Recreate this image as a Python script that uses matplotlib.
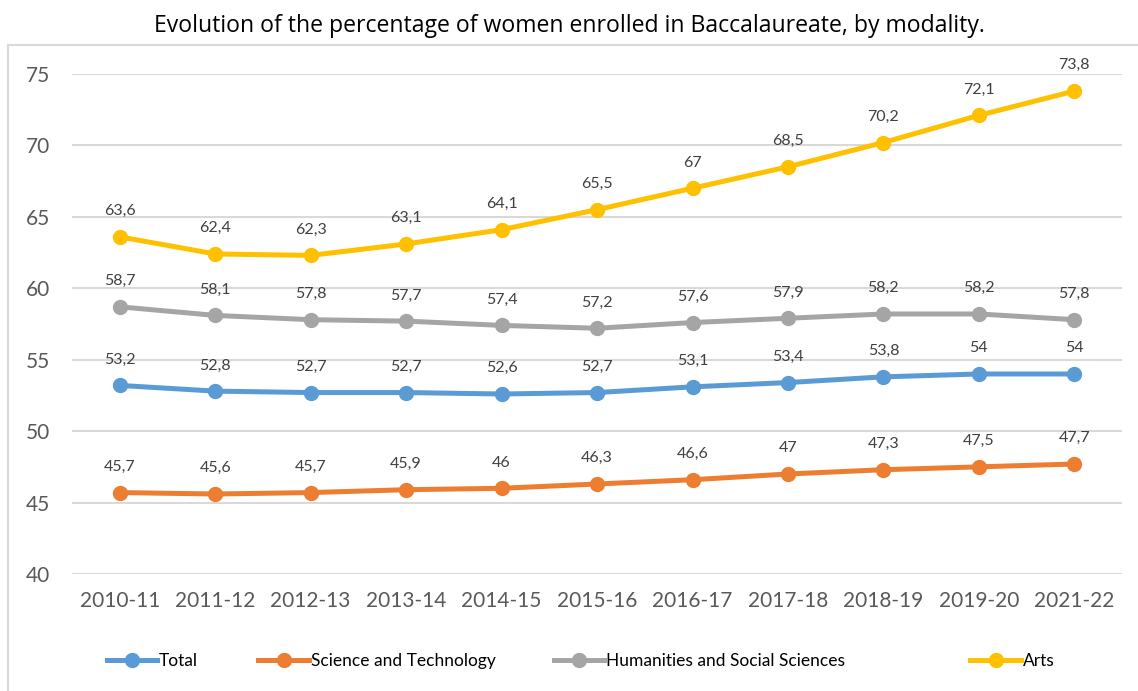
import matplotlib.pyplot as plt
from matplotlib.patches import Rectangle
from matplotlib.lines import Line2D

plt.rcParams['font.family'] = ['Lato', 'DejaVu Sans']

# School years on the x axis
years = ['2010-11', '2011-12', '2012-13', '2013-14', '2014-15', '2015-16',
         '2016-17', '2017-18', '2018-19', '2019-20', '2021-22']

# Percentage of women enrolled, by modality
total = [53.2, 52.8, 52.7, 52.7, 52.6, 52.7, 53.1, 53.4, 53.8, 54, 54]
science = [45.7, 45.6, 45.7, 45.9, 46, 46.3, 46.6, 47, 47.3, 47.5, 47.7]
humanities = [58.7, 58.1, 57.8, 57.7, 57.4, 57.2, 57.6, 57.9, 58.2, 58.2, 57.8]
arts = [63.6, 62.4, 62.3, 63.1, 64.1, 65.5, 67, 68.5, 70.2, 72.1, 73.8]

names = ['Total', 'Science and Technology', 'Humanities and Social Sciences', 'Arts']
colors = ['#5B9BD5', '#ED7D31', '#A5A5A5', '#FFC000']
series = [total, science, humanities, arts]

fig = plt.figure(figsize=(11.38, 6.91), dpi=100)
ax = fig.add_axes([0.0633, 0.1693, 0.9227, 0.7237])

# outer chart frame
fig.patches.append(Rectangle((0.007, -0.05), 1.1, 0.985, transform=fig.transFigure,
                             fill=False, edgecolor='#D9D9D9', linewidth=1.5))

x = range(len(years))
for vals, col in zip(series, colors):
    ax.plot(x, vals, color=col, linewidth=3.6, marker='o', markersize=10,
            solid_capstyle='round', zorder=3)
    for xi, v in zip(x, vals):
        label = ('%g' % v).replace('.', ',')
        ax.annotate(label, (xi, v), xytext=(0, 18.5), textcoords='offset points',
                    ha='center', va='center', fontsize=11.5, color='#404040')

ax.set_xlim(-0.5, len(years) - 0.5)
ax.set_ylim(40, 75)
ax.set_yticks(range(40, 76, 5))
ax.set_xticks(list(x))
ax.set_xticklabels(years)
ax.tick_params(axis='both', length=0, labelsize=15, labelcolor='#595959')
ax.tick_params(axis='y', pad=16)
ax.tick_params(axis='x', pad=12)
ax.grid(axis='y', color='#D9D9D9', linewidth=1.5)
ax.set_axisbelow(True)
for s in ax.spines.values():
    s.set_visible(False)

fig.text(0.5, 0.963, 'Evolution of the percentage of women enrolled in Baccalaureate, by modality.',
         ha='center', va='center', fontsize=16.6, color='black', family=['Open Sans', 'DejaVu Sans'])

# legend entries placed one by one, as in the original
leg_x = [0.088, 0.221, 0.4806, 0.8467]
for name, col, lx in zip(names, colors, leg_x):
    h = Line2D([], [], color=col, linewidth=3.6, marker='o', markersize=10)
    leg = fig.legend([h], [name], loc='center left', bbox_to_anchor=(lx, 0.043),
                     frameon=False, fontsize=12.5, handlelength=2.9, handletextpad=0.1,
                     borderaxespad=0)

fig.savefig('out.png', dpi=100)
